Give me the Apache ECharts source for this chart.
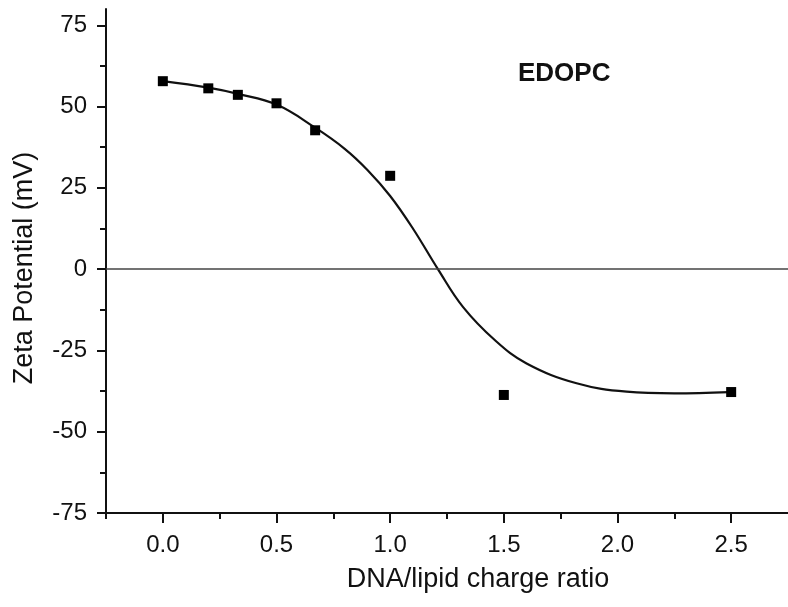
<!DOCTYPE html>
<html><head><meta charset="utf-8">
<script src="https://cdn.jsdelivr.net/npm/echarts@6/dist/echarts.min.js"></script>
<style>html,body{margin:0;padding:0;background:#fff}#c{width:788px;height:607px}</style>
</head><body><div id="c"></div>
<script>
// measured points
const ratioX = [0.0, 0.2, 0.33, 0.5, 0.67, 1.0, 1.5, 2.5];
const zetaY = [57.8, 55.6, 53.6, 51.0, 42.7, 28.7, -38.7, -37.8];
// fitted curve
const fitX = [0.0, 0.2, 0.33, 0.5, 0.67, 0.8, 0.9, 1.0, 1.1, 1.21, 1.32, 1.46, 1.6, 1.82, 2.04, 2.25, 2.49];
const fitY = [57.8, 55.8, 53.9, 50.6, 43.5, 37.0, 30.5, 22.5, 12.5, 0.0, -11.6, -21.8, -29.0, -35.1, -37.7, -38.2, -37.8];
// ticks
const xMajor = [0, 0.5, 1.0, 1.5, 2.0, 2.5];
const xMinor = [-0.25, 0.25, 0.75, 1.25, 1.75, 2.25];
const yMajor = [-75, -50, -25, 0, 25, 50, 75];
const yMinor = [-62.5, -37.5, -12.5, 12.5, 37.5, 62.5];
const xTitle = 'DNA/lipid charge ratio';
const yTitle = 'Zeta Potential (mV)';
const panelLabel = 'EDOPC';

const chart = echarts.init(document.getElementById('c'), null, {renderer: 'canvas'});
const font = 'Liberation Sans, Arial, sans-serif';
const ink = '#111';
const option = {
  animation: false,
  backgroundColor: '#fff',
  grid: {left: 106, right: -9, top: 9, bottom: 94, containLabel: false},
  xAxis: [{
    type: 'value', min: -0.25, max: 2.75,
    axisLine: {show: true, onZero: false, lineStyle: {color: ink, width: 2}},
    axisTick: {show: true, inside: false, length: 10, customValues: xMajor, lineStyle: {color: ink, width: 2}},
    axisLabel: {customValues: xMajor, margin: 20, fontFamily: font, fontSize: 24, color: ink,
      formatter: v => v.toFixed(1)},
    splitLine: {show: false}
  }, {
    type: 'value', min: -0.25, max: 2.75, position: 'bottom',
    axisLine: {show: false, onZero: false},
    axisTick: {show: true, inside: false, length: 6, customValues: xMinor, lineStyle: {color: ink, width: 2}},
    axisLabel: {show: false}, splitLine: {show: false}
  }],
  yAxis: [{
    type: 'value', min: -75, max: 80,
    axisLine: {show: true, onZero: false, lineStyle: {color: ink, width: 2}},
    axisTick: {show: true, inside: false, length: 9, customValues: yMajor, lineStyle: {color: ink, width: 2}},
    axisLabel: {customValues: yMajor, margin: 19, fontFamily: font, fontSize: 24, color: ink},
    splitLine: {show: false}
  }, {
    type: 'value', min: -75, max: 80, position: 'left',
    axisLine: {show: false, onZero: false},
    axisTick: {show: true, inside: false, length: 6, customValues: yMinor, lineStyle: {color: ink, width: 2}},
    axisLabel: {show: false}, splitLine: {show: false}
  }],
  series: [{
    type: 'line', xAxisIndex: 0, yAxisIndex: 0,
    data: fitX.map((x, i) => [x, fitY[i]]),
    smooth: 0.4, showSymbol: false, symbol: 'none',
    lineStyle: {color: ink, width: 2.2},
    markLine: {
      silent: true, symbol: 'none', label: {show: false},
      lineStyle: {color: '#444', width: 1.6, type: 'solid'},
      data: [{yAxis: 0}]
    },
    z: 3
  }, {
    type: 'scatter', xAxisIndex: 0, yAxisIndex: 0,
    data: ratioX.map((x, i) => [x, zetaY[i]]),
    symbol: 'rect', symbolSize: 10,
    itemStyle: {color: '#000', opacity: 1},
    z: 4
  }],
  graphic: [
    {type: 'text', left: 518, top: 61, style: {text: panelLabel, font: 'bold 26px ' + font, fill: ink}},
    {type: 'text', x: 478, y: 580, style: {text: xTitle, font: '27px ' + font, fill: ink, align: 'center', verticalAlign: 'middle'}},
    {type: 'text', x: 25, y: 268, rotation: Math.PI / 2, style: {text: yTitle, font: '27px ' + font, fill: ink, align: 'center', verticalAlign: 'middle'}}
  ]
};
chart.setOption(option);
</script>
</body></html>
